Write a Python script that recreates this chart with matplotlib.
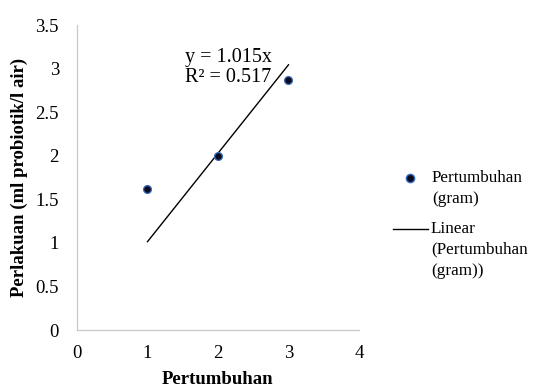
import matplotlib.pyplot as plt
from matplotlib.lines import Line2D

# data
pertumbuhan = [1, 2, 3]
perlakuan = [1.62, 2.0, 2.87]
slope = 1.015
r2 = 0.517
x_ticks = [0, 1, 2, 3, 4]
y_ticks = [0, 0.5, 1, 1.5, 2, 2.5, 3, 3.5]
y_tick_labels = ["0", "0.5", "1", "1.5", "2", "2.5", "3", "3.5"]

plt.rcParams["font.family"] = ["Liberation Serif", "DejaVu Serif"]
FS = 13.5
LEG_FS = 12.3
DOT_FACE = "#0b0b1e"
DOT_EDGE = "#3a6fc4"

fig = plt.figure(figsize=(5.48, 3.87), dpi=100)
ax = fig.add_axes([0.1405, 0.147, 0.5146, 0.788])

ax.scatter(pertumbuhan, perlakuan, s=32, color=DOT_FACE, edgecolors=DOT_EDGE,
           linewidths=0.9, zorder=3)
x_fit = [min(pertumbuhan), max(pertumbuhan)]
y_fit = [slope * v for v in x_fit]
ax.plot(x_fit, y_fit, color="black", linewidth=1.0)

ax.text(1.53, 3.24, f"y = {slope:.3f}x\nR\u00b2 = {r2:.3f}", fontsize=14.5,
        va="top", ha="left", linespacing=1.1)

ax.set_xlim(0, 4)
ax.set_ylim(0, 3.5)
ax.set_xticks(x_ticks)
ax.set_yticks(y_ticks)
ax.set_yticklabels(y_tick_labels)
ax.tick_params(axis="y", length=0, labelsize=FS, pad=13)
ax.tick_params(axis="x", length=0, labelsize=FS, pad=11)
for s in ["top", "right"]:
    ax.spines[s].set_visible(False)
for s in ["left", "bottom"]:
    ax.spines[s].set_color("#c8c8c8")
    ax.spines[s].set_linewidth(0.9)

ax.set_xlabel("Pertumbuhan", fontsize=FS, fontweight="bold", labelpad=6)
ax.set_ylabel("Perlakuan (ml probiotik/l air)", fontsize=FS, fontweight="bold",
              labelpad=5)

# legend, drawn by hand so the line key sits beside the first text line
W, H = 548.0, 387.0
fig.add_artist(Line2D([410 / W], [1 - 178 / H], marker="o", linestyle="none",
                      markersize=6, markerfacecolor=DOT_FACE,
                      markeredgecolor=DOT_EDGE, transform=fig.transFigure))
fig.text(432 / W, 1 - 170 / H, "Pertumbuhan\n(gram)", fontsize=LEG_FS,
         va="top", ha="left", linespacing=1.4)
fig.add_artist(Line2D([393 / W, 428 / W], [1 - 229 / H, 1 - 229 / H],
                      color="black", linewidth=1.0, transform=fig.transFigure))
fig.text(431 / W, 1 - 221 / H, "Linear\n(Pertumbuhan\n(gram))", fontsize=LEG_FS,
         va="top", ha="left", linespacing=1.4)

fig.savefig("out.png", dpi=100)
